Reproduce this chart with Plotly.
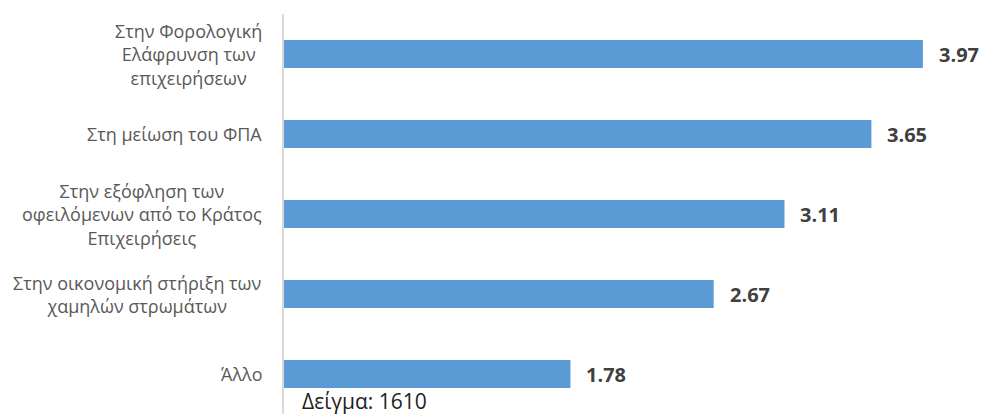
import plotly.graph_objects as go

categories = [
    "Στην Φορολογική<br>Ελάφρυνση των<br>επιχειρήσεων",
    "Στη μείωση του ΦΠΑ",
    "Στην εξόφληση των<br>οφειλόμενων από το Κράτος<br>Επιχειρήσεις",
    "Στην οικονομική στήριξη των<br>χαμηλών στρωμάτων",
    "Άλλο",
]
values = [3.97, 3.65, 3.11, 2.67, 1.78]
value_labels = ["3.97", "3.65", "3.11", "2.67", "1.78"]
note_text = "Δείγμα: 1610"

FONT = "Open Sans"
idx = list(range(len(categories)))

fig = go.Figure()
fig.add_trace(go.Bar(
    x=values, y=idx, orientation="h",
    marker=dict(color="#5B9BD5", line=dict(width=0)),
    width=0.35, hoverinfo="skip",
))

annotations = []
for i, (c, v, t) in enumerate(zip(categories, values, value_labels)):
    annotations.append(dict(
        x=0, xref="paper", y=i, yref="y", text=c, showarrow=False,
        xanchor="right", yanchor="middle", align="center", xshift=-20,
        font=dict(family=FONT, size=18, color="#595959"),
    ))
    annotations.append(dict(
        x=v, xref="x", y=i, yref="y", text="<b>" + t + "</b>", showarrow=False,
        xanchor="left", yanchor="middle", xshift=14,
        font=dict(family=FONT, size=20, color="#404040"),
    ))
annotations.append(dict(
    x=0, xref="x", y=0, yref="paper", text=note_text, showarrow=False,
    xanchor="left", yanchor="middle", xshift=16, yshift=13,
    font=dict(family=FONT, size=21, color="#1F1F1F"),
))

fig.update_layout(
    width=984, height=414,
    margin=dict(l=284, r=8, t=14, b=0),
    paper_bgcolor="white", plot_bgcolor="white",
    showlegend=False,
    annotations=annotations,
    xaxis=dict(range=[0, 4.3], visible=False, showgrid=False, zeroline=False),
    yaxis=dict(range=[4.5, -0.5], showticklabels=False, showgrid=False,
               zeroline=False, showline=True, linecolor="#D9D9D9", linewidth=1.5,
               ticks=""),
)

# remove the browser's default 8px body margin so the figure fills the window
fig.write_html(
    "out.html",
    config={"displayModeBar": False},
    post_script="document.body.style.margin='0px';document.body.style.overflow='hidden';",
)
